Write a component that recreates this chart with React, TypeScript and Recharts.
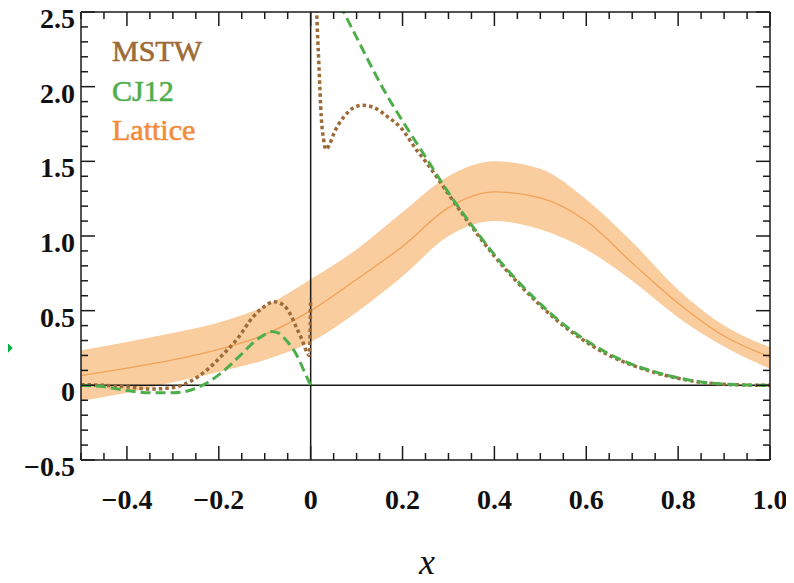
import React from "react";
import { ComposedChart, Line, Area, XAxis, YAxis, ReferenceLine } from "recharts";

// ---- data ----
const latticeX = [-0.5, -0.4, -0.3, -0.2, -0.1, 0, 0.1, 0.2, 0.3, 0.4, 0.5, 0.6, 0.7, 0.8, 0.9, 1.0];
const latticeMid = [0.065, 0.115, 0.17, 0.24, 0.34, 0.5, 0.71, 0.93, 1.19, 1.295, 1.255, 1.1, 0.82, 0.55, 0.33, 0.19];
const latticeLo = [-0.105, -0.05, 0.02, 0.09, 0.17, 0.29, 0.49, 0.73, 1.0, 1.1, 1.045, 0.91, 0.7, 0.455, 0.26, 0.11];
const latticeHi = [0.235, 0.29, 0.35, 0.42, 0.53, 0.71, 0.91, 1.16, 1.4, 1.5, 1.45, 1.245, 0.96, 0.64, 0.4, 0.255];

const mstwX = [-0.5, -0.45, -0.4, -0.35, -0.3, -0.26, -0.225, -0.19, -0.16, -0.125, -0.1, -0.08, -0.06, -0.045, -0.03, -0.018, -0.008, -0.003, 0,
  0.004,
  0.009, 0.013, 0.018, 0.023, 0.028, 0.033, 0.042, 0.051, 0.073, 0.094, 0.113, 0.138, 0.167, 0.196, 0.232, 0.25, 0.28, 0.3, 0.35, 0.4, 0.45, 0.5, 0.55, 0.6, 0.65, 0.7, 0.75, 0.8, 0.85, 0.9, 0.95, 1.0];
const mstwY = [0.005, 0.0, -0.01, -0.025, -0.015, 0.03, 0.105, 0.21, 0.31, 0.46, 0.53, 0.56, 0.54, 0.48, 0.38, 0.3, 0.22, 0.2, 0.58,
  null,
  3.0, 2.52, 2.14, 1.8, 1.65, 1.58, 1.62, 1.69, 1.8, 1.86, 1.875, 1.86, 1.8, 1.726, 1.57, 1.5, 1.37, 1.28, 1.065, 0.865, 0.69, 0.535, 0.4, 0.29, 0.2, 0.135, 0.085, 0.047, 0.02, 0.007, 0.002, 0.0];

const cj12X = [-0.5, -0.45, -0.4, -0.35, -0.3, -0.25, -0.2, -0.15, -0.12, -0.1, -0.085, -0.07, -0.05, -0.03, -0.015, 0,
  0.01,
  0.05, 0.072, 0.1, 0.159, 0.2, 0.25, 0.3, 0.35, 0.4, 0.45, 0.5, 0.55, 0.6, 0.65, 0.7, 0.75, 0.8, 0.85, 0.9, 0.95, 1.0];
const cj12Y = [0.0, -0.01, -0.035, -0.05, -0.05, -0.02, 0.07, 0.21, 0.3, 0.34, 0.36, 0.35, 0.29, 0.2, 0.1, 0.0,
  null,
  2.64, 2.5, 2.33, 1.98, 1.77, 1.53, 1.29, 1.075, 0.875, 0.7, 0.545, 0.41, 0.3, 0.21, 0.14, 0.09, 0.05, 0.022, 0.008, 0.002, 0.0];

const xTicks = [-0.5, -0.45, -0.4, -0.35, -0.3, -0.25, -0.2, -0.15, -0.1, -0.05, 0, 0.05, 0.1, 0.15, 0.2, 0.25, 0.3, 0.35, 0.4, 0.45, 0.5, 0.55, 0.6, 0.65, 0.7, 0.75, 0.8, 0.85, 0.9, 0.95, 1.0];
const xMajor = [-0.4, -0.2, 0, 0.2, 0.4, 0.6, 0.8, 1.0];
const yTicks = [-0.5, -0.4, -0.3, -0.2, -0.1, 0, 0.1, 0.2, 0.3, 0.4, 0.5, 0.6, 0.7, 0.8, 0.9, 1.0, 1.1, 1.2, 1.3, 1.4, 1.5, 1.6, 1.7, 1.8, 1.9, 2.0, 2.1, 2.2, 2.3, 2.4, 2.5];
const yMajor = [-0.5, 0, 0.5, 1.0, 1.5, 2.0, 2.5];

const legendItems = ["MSTW", "CJ12", "Lattice"];
const legendColors = ["#9c6b37", "#4fae4c", "#f28c3c"];

// ---- build tables ----
const bandData = latticeX.map((x, i) => ({ x, band: [latticeLo[i], latticeHi[i]], mid: latticeMid[i] }));
const mstwData = mstwX.map((x, i) => ({ x, y: mstwY[i] }));
const cj12Data = cj12X.map((x, i) => ({ x, y: cj12Y[i] }));

const isIn = (arr: number[], v: number) => arr.some((m) => Math.abs(m - v) < 1e-6);
const fmt = (v: number) => (Math.abs(v) < 1e-9 ? "0" : (v < 0 ? "\u2212" : "") + Math.abs(v).toFixed(1));

const AX = "#1a1a1a";
const FONT = "'Liberation Serif', 'DejaVu Serif', serif";
const MAJ = 14;
const MIN = 7;

const BottomTick = (p: any) => {
  const v = p.payload.value;
  const major = isIn(xMajor, v);
  return (
    <g>
      <line x1={p.x} y1={p.y} x2={p.x} y2={p.y - (major ? MAJ : MIN)} stroke={AX} strokeWidth={1.5} />
      {major && (
        <text x={p.x} y={p.y + 49} textAnchor="middle" fontFamily={FONT} fontWeight="bold" fontSize={28} fill="#111">
          {fmt(v)}
        </text>
      )}
    </g>
  );
};
const TopTick = (p: any) => {
  const major = isIn(xMajor, p.payload.value);
  return <line x1={p.x} y1={p.y} x2={p.x} y2={p.y + (major ? MAJ : MIN)} stroke={AX} strokeWidth={1.5} />;
};
const LeftTick = (p: any) => {
  const v = p.payload.value;
  const major = isIn(yMajor, v);
  return (
    <g>
      <line x1={p.x} y1={p.y} x2={p.x + (major ? MAJ : MIN)} y2={p.y} stroke={AX} strokeWidth={1.5} />
      {major && (
        <text x={p.x - 6} y={p.y + 16} textAnchor="end" fontFamily={FONT} fontWeight="bold" fontSize={28} fill="#111">
          {fmt(v)}
        </text>
      )}
    </g>
  );
};
const RightTick = (p: any) => {
  const major = isIn(yMajor, p.payload.value);
  return <line x1={p.x} y1={p.y} x2={p.x - (major ? MAJ : MIN)} y2={p.y} stroke={AX} strokeWidth={1.5} />;
};

export default function App() {
  return (
    <div style={{ position: "relative", width: 778, height: 567 }}>
      <ComposedChart width={778} height={567} margin={{ top: 3, left: 72, right: 15, bottom: 114 }} data={bandData}>
        <XAxis
          xAxisId="b"
          dataKey="x"
          type="number"
          domain={[-0.5, 1.0]}
          allowDataOverflow
          ticks={xTicks}
          interval={0}
          height={1}
          tickSize={0}
          tickMargin={0}
          tickLine={false}
          axisLine={{ stroke: AX, strokeWidth: 1.5 }}
          tick={BottomTick}
        />
        <XAxis
          xAxisId="t"
          orientation="top"
          dataKey="x"
          type="number"
          domain={[-0.5, 1.0]}
          allowDataOverflow
          ticks={xTicks}
          interval={0}
          height={1}
          tickSize={0}
          tickMargin={0}
          tickLine={false}
          axisLine={{ stroke: AX, strokeWidth: 1.5 }}
          tick={TopTick}
        />
        <YAxis
          yAxisId="l"
          type="number"
          domain={[-0.5, 2.5]}
          allowDataOverflow
          ticks={yTicks}
          interval={0}
          width={1}
          tickSize={0}
          tickMargin={0}
          tickLine={false}
          axisLine={{ stroke: AX, strokeWidth: 1.5 }}
          tick={LeftTick}
        />
        <YAxis
          yAxisId="r"
          orientation="right"
          type="number"
          domain={[-0.5, 2.5]}
          allowDataOverflow
          ticks={yTicks}
          interval={0}
          width={1}
          tickSize={0}
          tickMargin={0}
          tickLine={false}
          axisLine={{ stroke: AX, strokeWidth: 1.5 }}
          tick={RightTick}
        />
        <Area
          xAxisId="b"
          yAxisId="l"
          dataKey="band"
          type="monotone"
          fill="#f9cd9e"
          fillOpacity={1}
          stroke="none"
          isAnimationActive={false}
          activeDot={false}
        />
        <Line
          xAxisId="b"
          yAxisId="l"
          dataKey="mid"
          type="monotone"
          stroke="#f2a257"
          strokeWidth={1.3}
          dot={false}
          isAnimationActive={false}
        />
        <ReferenceLine xAxisId="b" yAxisId="l" x={0} stroke={AX} strokeWidth={1.5} />
        <ReferenceLine xAxisId="b" yAxisId="l" y={0} stroke={AX} strokeWidth={1.5} />
        <Line
          xAxisId="b"
          yAxisId="l"
          data={mstwData}
          dataKey="y"
          type="monotone"
          stroke="#9c6b37"
          strokeWidth={3.5}
          strokeDasharray="3.5 3"
          dot={false}
          isAnimationActive={false}
        />
        <Line
          xAxisId="b"
          yAxisId="l"
          data={cj12Data}
          dataKey="y"
          type="monotone"
          stroke="#4fae4c"
          strokeWidth={3}
          strokeDasharray="10 5"
          dot={false}
          isAnimationActive={false}
        />
      </ComposedChart>
      <div
        style={{
          position: "absolute",
          left: -17,
          top: 331,
          width: 18,
          height: 18,
          background: "#00b140",
          transform: "rotate(45deg)",
        }}
      />
      <svg
        width={794}
        height={583}
        style={{ position: "absolute", left: -8, top: -8, pointerEvents: "none", overflow: "visible" }}
      >
        {legendItems.map((t, i) => (
          <text
            key={t}
            x={112}
            y={61 + i * 39.5}
            fontFamily={FONT}
            fontSize={30}
            fill={legendColors[i]}
            stroke={legendColors[i]}
            strokeWidth={0.6}
          >
            {t}
          </text>
        ))}
        <text x={427} y={574} textAnchor="middle" fontFamily={FONT} fontStyle="italic" fontSize={36} fill="#111">
          x
        </text>
      </svg>
    </div>
  );
}
